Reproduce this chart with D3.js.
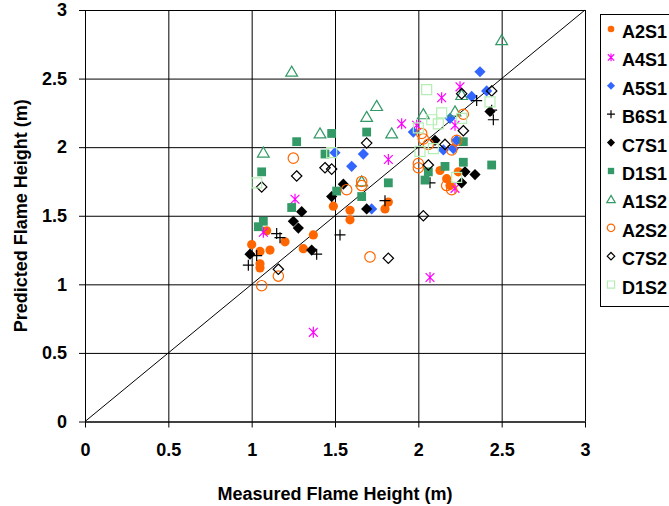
<!DOCTYPE html>
<html>
<head>
<meta charset="utf-8">
<script src="https://cdn.jsdelivr.net/npm/d3@7"></script>
<style>
  body { margin: 0; background: #fff; }
  svg text { font-family: Arial, "Liberation Sans", sans-serif; font-weight: bold; fill: #000; }
</style>
</head>
<body>
<div id="chart"></div>
<script>
// Data: [measured, predicted]
var seriesNames = ["A2S1", "A4S1", "A5S1", "B6S1", "C7S1", "D1S1", "A1S2", "A2S2", "C7S2", "D1S2"];

var a2s1 = [[1.00,1.29],[1.05,1.24],[1.05,1.15],[1.05,1.12],[1.09,1.39],[1.11,1.25],[1.20,1.31],
            [1.31,1.26],[1.37,1.36],[1.49,1.57],[1.59,1.54],[1.59,1.47],[1.80,1.55],[1.82,1.60],
            [2.13,1.83],[2.17,1.77],[2.19,1.72],[2.24,1.82]];
var a4s1 = [[1.07,1.38],[1.26,1.62],[1.37,0.65],[1.82,1.91],[1.90,2.17],[1.99,2.16],[2.14,2.36],
            [2.25,2.44],[2.22,2.16],[2.22,1.70],[2.07,1.05]];
var a5s1 = [[1.50,1.96],[1.60,1.86],[1.67,1.95],[1.72,1.55],[1.97,2.11],[2.15,1.98],[2.21,1.99],
            [2.23,2.05],[2.19,2.21],[2.32,2.37],[2.37,2.55],[2.41,2.41]];
var b6s1 = [[0.98,1.14],[1.03,1.21],[1.15,1.37],[1.17,1.34],[1.39,1.22],[1.53,1.36],[1.80,1.61],
            [2.07,1.74],[2.35,2.34],[2.44,2.27],[2.45,2.20]];
var c7s1 = [[0.99,1.22],[1.25,1.46],[1.28,1.41],[1.30,1.53],[1.36,1.25],[1.48,1.64],[1.55,1.73],
            [1.69,1.55],[2.10,2.05],[2.26,1.74],[2.28,1.82],[2.34,1.80],[2.43,2.26]];
var d1s1 = [[1.04,1.42],[1.07,1.46],[1.06,1.82],[1.24,1.56],[1.27,2.04],[1.44,1.95],[1.48,2.10],
            [1.51,1.68],[1.66,1.64],[1.69,2.11],[1.82,1.74],[2.04,1.76],[2.06,1.82],[2.16,1.86],
            [2.27,1.89],[2.27,2.04],[2.44,1.87]];
var a1s2 = [[1.07,1.96],[1.24,2.55],[1.41,2.10],[1.66,1.75],[1.69,2.22],[1.75,2.30],[1.84,2.10],
            [2.03,2.24],[2.22,2.26],[2.26,2.38],[2.50,2.78]];
var a2s2 = [[1.06,0.99],[1.16,1.06],[1.25,1.92],[1.57,1.69],[1.66,1.75],[1.66,1.72],[1.71,1.20],
            [2.00,1.88],[2.00,1.85],[2.02,2.10],[2.03,2.06],[2.06,2.02],[2.20,1.98],[2.23,2.05],
            [2.27,2.24],[2.17,1.72],[2.20,1.69]];
var c7s2 = [[1.06,1.71],[1.16,1.11],[1.27,1.79],[1.44,1.85],[1.48,1.84],[1.69,2.03],[1.82,1.19],
            [2.03,1.50],[2.06,1.87],[2.16,2.02],[2.27,2.12],[2.26,2.39],[2.44,2.41]];
var d1s2 = [[1.03,1.74],[1.48,1.96],[2.00,2.14],[2.01,1.97],[2.05,2.42],[2.08,2.20],[2.09,1.99],
            [2.12,2.17],[2.14,2.25],[2.23,1.78],[2.26,2.21],[2.43,2.33]];

var tickValues = [0, 0.5, 1, 1.5, 2, 2.5, 3];

var seriesData = [a2s1, a4s1, a5s1, b6s1, c7s1, d1s1, a1s2, a2s2, c7s2, d1s2];

// Marker look per series
var markers = [
  { shape: "circle",   fill: "#FF6600", stroke: "none",    size: 4.6 },
  { shape: "asterisk", fill: "none",    stroke: "#FF00FF", size: 5.5 },
  { shape: "diamond",  fill: "#3366FF", stroke: "none",    size: 5.6 },
  { shape: "plus",     fill: "none",    stroke: "#000",    size: 5.5 },
  { shape: "diamond",  fill: "#000",    stroke: "none",    size: 5.6 },
  { shape: "square",   fill: "#339966", stroke: "none",    size: 4.4 },
  { shape: "triangle", fill: "none",    stroke: "#339966", size: 5.6 },
  { shape: "circle",   fill: "none",    stroke: "#FF6600", size: 5.2 },
  { shape: "diamond",  fill: "none",    stroke: "#000",    size: 5.2 },
  { shape: "square",   fill: "none",    stroke: "#b4eeb4", size: 5.0 }
];

function shapePath(shape, r) {
  switch (shape) {
    case "circle":
      return "M" + r + ",0A" + r + "," + r + " 0 1,1 " + (-r) + ",0A" + r + "," + r + " 0 1,1 " + r + ",0Z";
    case "diamond":
      return "M0," + (-r) + "L" + r + ",0L0," + r + "L" + (-r) + ",0Z";
    case "square":
      return "M" + (-r) + "," + (-r) + "H" + r + "V" + r + "H" + (-r) + "Z";
    case "triangle":
      return "M0," + (-r) + "L" + (r * 1.05) + "," + (r * 0.8) + "L" + (-r * 1.05) + "," + (r * 0.8) + "Z";
    case "plus":
      return "M" + (-r) + ",0H" + r + "M0," + (-r) + "V" + r;
    case "asterisk":
      var k = r * 0.8;
      return "M0," + (-r) + "V" + r + "M" + (-k) + "," + (-k) + "L" + k + "," + k + "M" + (-k) + "," + k + "L" + k + "," + (-k);
  }
}

var W = 669, H = 506;
var plot = { left: 85, right: 585, top: 10, bottom: 421.5 };

var svg = d3.select("#chart").append("svg")
    .attr("width", W)
    .attr("height", H);

var x = d3.scaleLinear().domain([0, 3]).range([plot.left, plot.right]);
var y = d3.scaleLinear().domain([0, 3]).range([plot.bottom, plot.top]);

// Gridlines
svg.append("g")
    .attr("transform", "translate(0," + plot.bottom + ")")
    .call(d3.axisBottom(x).tickValues(tickValues).tickSize(-(plot.bottom - plot.top)).tickFormat(""))
    .call(function(g) { g.select(".domain").remove(); })
    .selectAll("line").attr("stroke", "#000").attr("stroke-width", 1);

svg.append("g")
    .attr("transform", "translate(" + plot.left + ",0)")
    .call(d3.axisLeft(y).tickValues(tickValues).tickSize(-(plot.right - plot.left)).tickFormat(""))
    .call(function(g) { g.select(".domain").remove(); })
    .selectAll("line").attr("stroke", "#000").attr("stroke-width", 1);

// Axes with outside ticks
var xAxis = svg.append("g")
    .attr("transform", "translate(0," + plot.bottom + ")")
    .call(d3.axisBottom(x).tickValues(tickValues).tickSize(6).tickPadding(16).tickSizeOuter(0)
      .tickFormat(function(d) { return d; }));

var yAxis = svg.append("g")
    .attr("transform", "translate(" + plot.left + ",0)")
    .call(d3.axisLeft(y).tickValues(tickValues).tickSize(6).tickPadding(12).tickSizeOuter(0)
      .tickFormat(function(d) { return d; }));

[xAxis, yAxis].forEach(function(g) {
  g.selectAll("line, path").attr("stroke", "#000");
  g.selectAll("text")
    .attr("font-size", 18)
    .attr("font-family", "Arial, 'Liberation Sans', sans-serif")
    .attr("font-weight", "bold")
    .attr("fill", "#000");
});

// 1:1 line
svg.append("line")
    .attr("x1", x(0)).attr("y1", y(0))
    .attr("x2", x(3)).attr("y2", y(3))
    .attr("stroke", "#000")
    .attr("stroke-width", 1);

// Points
seriesData.forEach(function(data, i) {
  var m = markers[i];
  svg.append("g")
      .attr("class", "series")
    .selectAll("path")
      .data(data)
    .enter().append("path")
      .attr("transform", function(d) { return "translate(" + x(d[0]) + "," + y(d[1]) + ")"; })
      .attr("d", shapePath(m.shape, m.size))
      .attr("fill", m.fill)
      .attr("stroke", m.stroke)
      .attr("stroke-width", m.stroke === "none" ? 0 : 1.2);
});

// Axis titles
svg.append("text")
    .attr("x", (plot.left + plot.right) / 2)
    .attr("y", 500)
    .attr("text-anchor", "middle")
    .attr("font-size", 18)
    .text("Measured Flame Height (m)");

svg.append("text")
    .attr("transform", "translate(27," + ((plot.top + plot.bottom) / 2) + ") rotate(-90)")
    .attr("text-anchor", "middle")
    .attr("font-size", 18)
    .text("Predicted Flame Height (m)");

// Legend
var legend = svg.append("g").attr("transform", "translate(600,14)");

legend.append("rect")
    .attr("x", 0.5).attr("y", 0.5)
    .attr("width", 120).attr("height", 292)
    .attr("fill", "#fff")
    .attr("stroke", "#000");

seriesNames.forEach(function(name, i) {
  var m = markers[i];
  var row = legend.append("g").attr("transform", "translate(0," + (24 + i * 28.4) + ")");
  row.append("path")
      .attr("transform", "translate(11,-9)")
      .attr("d", shapePath(m.shape, m.size * 0.72))
      .attr("fill", m.fill)
      .attr("stroke", m.stroke)
      .attr("stroke-width", m.stroke === "none" ? 0 : 1.2);
  row.append("text")
      .attr("x", 22)
      .attr("font-size", 18)
      .text(name);
});
</script>
</body>
</html>
